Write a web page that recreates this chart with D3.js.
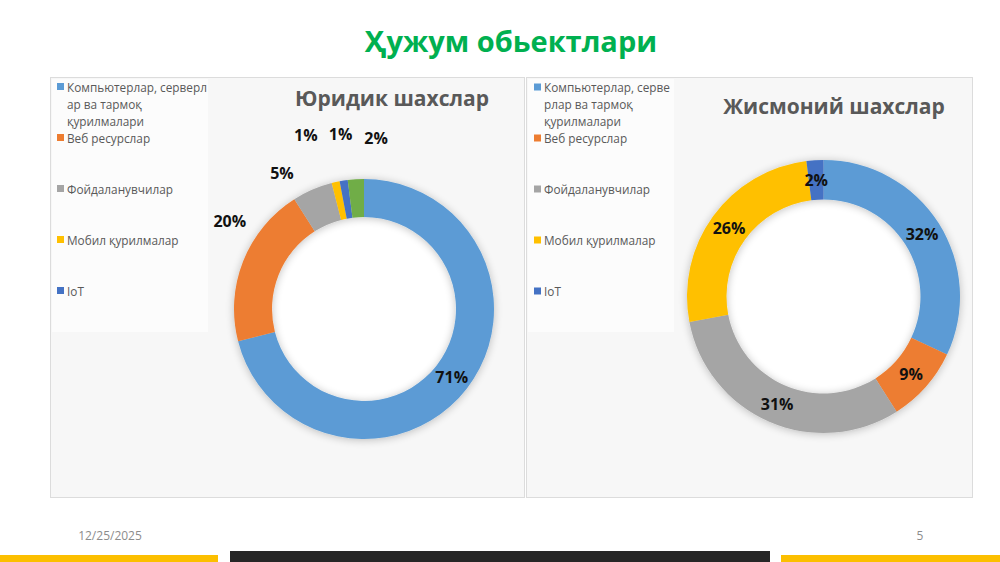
<!DOCTYPE html>
<html><head><meta charset="utf-8">
<script src="https://cdn.jsdelivr.net/npm/d3@7"></script>
<style>
html,body{margin:0;padding:0;background:#fff;}
svg{display:block;font-family:"Open Sans","Noto Sans",sans-serif;}
</style></head>
<body>
<svg id="c" width="1000" height="562"></svg>
<script>
// ---- data ----
const pageTitle = "Ҳужум обьектлари";
const categories = ["Компьютерлар, серверлар ва тармоқ қурилмалари", "Веб ресурслар", "Фойдаланувчилар", "Мобил қурилмалар", "IoT", "Бошқа"];
const legalTitle = "Юридик шахслар";
const legalValues = [71, 20, 5, 1, 1, 2];
const personTitle = "Жисмоний шахслар";
const personValues = [32, 9, 31, 26, 2, 0];
const legendLinesLeft = [["Компьютерлар, серверл", "ар ва тармоқ", "қурилмалари"], ["Веб ресурслар"], ["Фойдаланувчилар"], ["Мобил қурилмалар"], ["IoT"]];
const legendLinesRight = [["Компьютерлар, серве", "рлар ва тармоқ", "қурилмалари"], ["Веб ресурслар"], ["Фойдаланувчилар"], ["Мобил қурилмалар"], ["IoT"]];
const footerDate = "12/25/2025";
const slideNumber = "5";

// ---- style ----
const colors = ["#5b9bd5", "#ed7d31", "#a5a5a5", "#ffc000", "#4472c4", "#70ad47"];
const color = d3.scaleOrdinal().domain(categories).range(colors);

const svg = d3.select("#c");
const defs = svg.append("defs");
const f = defs.append("filter").attr("id", "sh").attr("x", "-20%").attr("y", "-20%").attr("width", "140%").attr("height", "140%");
f.append("feGaussianBlur").attr("in", "SourceAlpha").attr("stdDeviation", 4).attr("result", "b");
f.append("feOffset").attr("in", "b").attr("dx", 0).attr("dy", 1).attr("result", "o");
f.append("feComponentTransfer").attr("in", "o").attr("result", "o2").append("feFuncA").attr("type", "linear").attr("slope", 0.25);
const fm = f.append("feMerge");
fm.append("feMergeNode").attr("in", "o2");
fm.append("feMergeNode").attr("in", "SourceGraphic");

// page title
svg.append("text").attr("x", 511).attr("y", 40).attr("text-anchor", "middle").attr("dominant-baseline", "central")
  .attr("fill", "#00b050").attr("font-weight", 700).attr("font-size", 29).text(pageTitle);

function panel(cfg) {
  const g = svg.append("g");
  g.append("rect").attr("x", cfg.x + 0.5).attr("y", cfg.y + 0.5).attr("width", cfg.w).attr("height", cfg.h)
    .attr("fill", "#f7f7f7").attr("stroke", "#dcdcdc");
  g.append("rect").attr("x", cfg.x + 2).attr("y", cfg.y + 2).attr("width", cfg.legendW).attr("height", cfg.legendH)
    .attr("fill", "#fcfcfc");
  // legend
  const ly = d3.scaleLinear().domain([0, 1]).range([cfg.legendY0, cfg.legendY0 + 51]);
  cfg.legendLines.forEach((lines, i) => {
    const y0 = ly(i);
    g.append("rect").attr("x", cfg.legendX).attr("y", y0 - 3.5).attr("width", 7).attr("height", 7).attr("fill", color(categories[i]));
    lines.forEach((t, j) => {
      g.append("text").attr("x", cfg.legendX + 10).attr("y", y0 + j * 17).attr("dominant-baseline", "central")
        .attr("font-size", 11.8).attr("fill", "#595959").text(t);
    });
  });
  // chart title
  g.append("text").attr("x", cfg.titleX).attr("y", cfg.titleY).attr("text-anchor", "middle").attr("dominant-baseline", "central")
    .attr("font-size", cfg.titleSize).attr("font-weight", 700).attr("fill", "#595959").text(cfg.title);
  // donut
  const pie = d3.pie().sort(null).value(d => d.v);
  const data = pie(cfg.values.map((v, i) => ({ c: categories[i], v })));
  const arc = d3.arc().innerRadius(cfg.r).outerRadius(cfg.R);
  const dg = g.append("g").attr("transform", `translate(${cfg.cx},${cfg.cy})`);
  dg.append("circle").attr("r", cfg.r).attr("fill", "#ffffff");
  const ring = dg.append("g").attr("filter", "url(#sh)");
  ring.selectAll("path").data(data.filter(d => d.data.v > 0)).join("path")
    .attr("d", arc).attr("fill", d => color(d.data.c));
  dg.selectAll("text.lbl").data(data.filter(d => d.data.v > 0)).join("text").attr("class", "lbl")
    .attr("transform", (d, i) => {
      const c = arc.centroid(d);
      const n = cfg.nudge[d.index] || [0, 0];
      return `translate(${c[0] + n[0]},${c[1] + n[1]})`;
    })
    .attr("text-anchor", "middle").attr("dominant-baseline", "central")
    .attr("font-size", 16).attr("font-weight", 700).attr("fill", "#111")
    .text(d => d.data.v + "%");
}

panel({
  x: 50, y: 77, w: 474, h: 420, legendW: 156, legendH: 253,
  legendX: 57, legendY0: 86.5, legendLines: legendLinesLeft,
  title: legalTitle, titleX: 392, titleY: 98, titleSize: 21,
  values: legalValues, cx: 364, cy: 309, R: 130, r: 92,
  nudge: [[0, 0], [-31, -47], [-38, -34], [-34, -66], [-6, -65], [19, -60]]
});
panel({
  x: 526, y: 77, w: 446, h: 420, legendW: 146, legendH: 253,
  legendX: 534, legendY0: 87, legendLines: legendLinesRight,
  title: personTitle, titleX: 834, titleY: 106, titleSize: 21,
  values: personValues, cx: 823.5, cy: 296.5, R: 136.5, r: 97,
  nudge: []
});

// footer
svg.append("text").attr("x", 110).attr("y", 535).attr("text-anchor", "middle").attr("dominant-baseline", "central")
  .attr("font-size", 12).attr("fill", "#8c8c8c").text(footerDate);
svg.append("text").attr("x", 920).attr("y", 535).attr("text-anchor", "middle").attr("dominant-baseline", "central")
  .attr("font-size", 12).attr("fill", "#8c8c8c").text(slideNumber);
svg.append("rect").attr("x", 0).attr("y", 555).attr("width", 218).attr("height", 7).attr("fill", "#fcbf00");
svg.append("rect").attr("x", 230).attr("y", 551).attr("width", 540).attr("height", 11).attr("fill", "#262626");
svg.append("rect").attr("x", 781).attr("y", 555).attr("width", 219).attr("height", 7).attr("fill", "#fcbf00");
</script>
</body></html>
